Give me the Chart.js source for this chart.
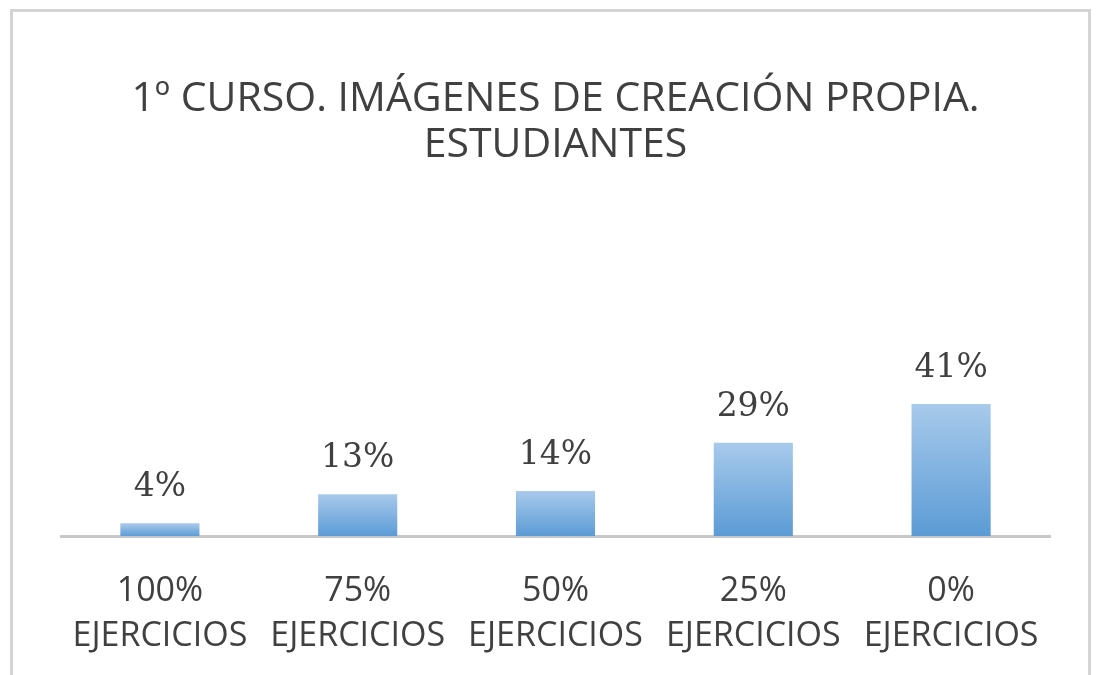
<!DOCTYPE html>
<html lang="es">
<head>
  <meta charset="UTF-8">
  <title>1º Curso. Imágenes de creación propia</title>
  <script src="https://cdn.jsdelivr.net/npm/chart.js"></script>
  <style>
    body { margin: 0; background: #fff; }
  </style>
</head>
<body>
  <canvas id="myChart" width="1096" height="675"></canvas>
  <script>
    // datos
    const categories = [
      ['100%', 'EJERCICIOS'],
      ['75%', 'EJERCICIOS'],
      ['50%', 'EJERCICIOS'],
      ['25%', 'EJERCICIOS'],
      ['0%', 'EJERCICIOS']
    ];
    const percentages = [4, 13, 14, 29, 41];
    const titleLines = ['1º CURSO. IMÁGENES DE CREACIÓN PROPIA.', 'ESTUDIANTES'];

    // marco gris y fondo blanco
    const framePlugin = {
      id: 'frame',
      beforeDraw(chart) {
        const c = chart.ctx;
        c.save();
        c.fillStyle = '#ffffff';
        c.fillRect(0, 0, chart.width, chart.height);
        c.strokeStyle = '#d4d4d4';
        c.lineWidth = 3;
        c.strokeRect(11.5, 10.5, 1078, 700);
        c.restore();
      }
    };

    // etiquetas de valor encima de cada barra
    const valueLabels = {
      id: 'valueLabels',
      afterDatasetsDraw(chart) {
        const c = chart.ctx;
        const meta = chart.getDatasetMeta(0);
        c.save();
        c.font = '33px "DejaVu Serif", serif';
        c.fillStyle = '#404040';
        c.textAlign = 'center';
        c.textBaseline = 'alphabetic';
        meta.data.forEach((bar, i) => {
          c.fillText(percentages[i] + '%', bar.x, bar.y - 27);
        });
        c.restore();
      }
    };

    function barGradient(context) {
      const chart = context.chart;
      if (!chart.chartArea) return '#7aaee0';
      const y = chart.scales.y;
      const top = y.getPixelForValue(context.raw);
      const bottom = y.getPixelForValue(0);
      const g = chart.ctx.createLinearGradient(0, top, 0, bottom);
      g.addColorStop(0, '#a8caeb');
      g.addColorStop(1, '#5b9bd5');
      return g;
    }

    const ctx = document.getElementById('myChart').getContext('2d');
    const myChart = new Chart(ctx, {
      type: 'bar',
      data: {
        labels: categories,
        datasets: [{
          label: 'Estudiantes',
          data: percentages,
          backgroundColor: barGradient,
          borderWidth: 0,
          categoryPercentage: 0.4,
          barPercentage: 1
        }]
      },
      options: {
        responsive: false,
        animation: false,
        layout: {
          padding: { top: 0, left: 61, right: 46, bottom: -17 }
        },
        plugins: {
          legend: { display: false },
          tooltip: { enabled: false },
          title: {
            display: true,
            text: titleLines,
            color: '#404040',
            font: { family: '"Open Sans", sans-serif', size: 41, weight: 'normal', lineHeight: 1.12 },
            padding: { top: 76, bottom: 46 }
          }
        },
        scales: {
          x: {
            grid: { display: false, drawTicks: false },
            border: { display: true, color: '#c8c8c8', width: 3 },
            ticks: {
              color: '#404040',
              padding: 33,
              maxRotation: 0,
              font: { family: '"Open Sans", sans-serif', size: 34, lineHeight: 1.32 }
            }
          },
          y: {
            display: false,
            min: 0,
            max: 100
          }
        }
      },
      plugins: [framePlugin, valueLabels]
    });
  </script>
</body>
</html>
